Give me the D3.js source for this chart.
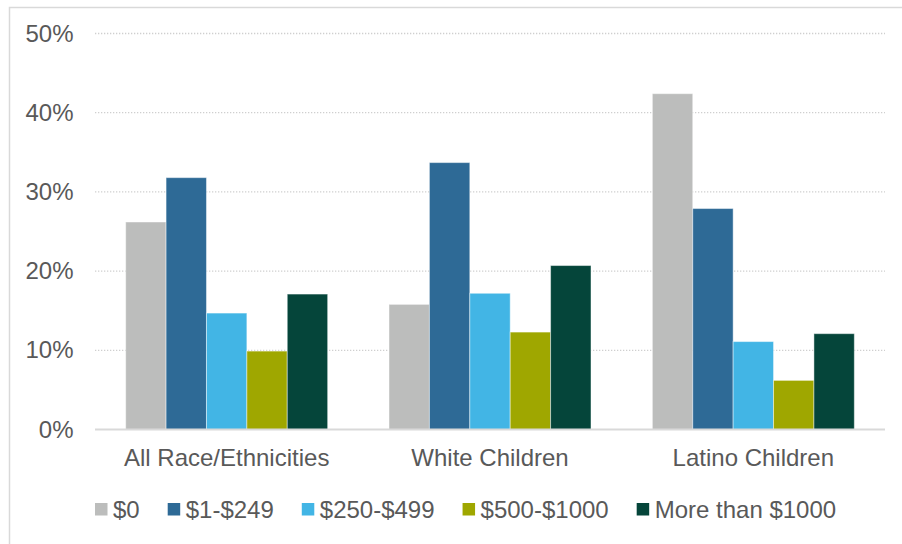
<!DOCTYPE html>
<html>
<head>
<meta charset="utf-8">
<script src="https://cdn.jsdelivr.net/npm/d3@7/dist/d3.min.js"></script>
<style>
  html, body { margin: 0; padding: 0; background: #ffffff; }
  svg { display: block; }
  text { font-family: "Liberation Sans", Arial, sans-serif; fill: #595959; }
</style>
</head>
<body>
<svg id="chart" width="902" height="544"></svg>
<script>
// Groups along the x axis
const categories = ["All Race/Ethnicities", "White Children", "Latino Children"];

// Spending brackets (one bar per bracket within each group)
const seriesNames = ["$0", "$1-$249", "$250-$499", "$500-$1000", "More than $1000"];
const seriesColors = ["#bcbdbc", "#2e6a96", "#42b5e5", "#9fa700", "#05453a"];

// Share of children in each bracket, in percent (rows follow categories)
const valuesAll = [26.2, 31.8, 14.7, 9.9, 17.1];
const valuesWhite = [15.8, 33.7, 17.2, 12.3, 20.7];
const valuesLatino = [42.4, 27.9, 11.1, 6.2, 12.1];
const values = [valuesAll, valuesWhite, valuesLatino];

// Y axis ticks
const yTicks = [0, 10, 20, 30, 40, 50];

const svg = d3.select("#chart");
const plot = { left: 95, right: 885, top: 33.5, bottom: 429.5 };
const fontSize = 24;

// Outer frame
svg.append("rect")
  .attr("x", 9.5).attr("y", 7.5)
  .attr("width", 900).attr("height", 545)
  .attr("fill", "none")
  .attr("stroke", "#d9d9d9")
  .attr("stroke-width", 1.5);

const x0 = d3.scaleBand()
  .domain(categories)
  .range([plot.left, plot.right])
  .paddingInner(0.233)
  .paddingOuter(0.1165);

const x1 = d3.scaleBand()
  .domain(seriesNames)
  .range([0, x0.bandwidth()]);

const y = d3.scaleLinear()
  .domain([0, 50])
  .range([plot.bottom, plot.top]);

const color = d3.scaleOrdinal().domain(seriesNames).range(seriesColors);

// Dotted gridlines
svg.append("g")
  .selectAll("line")
  .data(yTicks.filter(d => d > 0))
  .join("line")
  .attr("x1", plot.left).attr("x2", plot.right)
  .attr("y1", d => y(d)).attr("y2", d => y(d))
  .attr("stroke", "#cfcfcf")
  .attr("stroke-width", 1.3)
  .attr("stroke-dasharray", "1.3,1.7");

// Y axis labels
const yAxis = d3.axisLeft(y)
  .tickValues(yTicks)
  .tickFormat(d => d + "%")
  .tickSize(0)
  .tickPadding(0);

const yg = svg.append("g")
  .attr("transform", `translate(${plot.left - 21.5},0)`)
  .call(yAxis);
yg.select(".domain").remove();
yg.selectAll("text")
  .attr("font-size", fontSize)
  .attr("font-family", "Liberation Sans, Arial, sans-serif")
  .attr("fill", "#595959")
  .attr("dy", "0.32em");

// Bars
const groups = svg.append("g")
  .selectAll("g")
  .data(categories)
  .join("g")
  .attr("transform", d => `translate(${x0(d)},0)`);

groups.selectAll("rect")
  .data((d, i) => seriesNames.map((s, j) => ({ s, v: values[i][j] })))
  .join("rect")
  .attr("x", d => x1(d.s))
  .attr("width", x1.bandwidth())
  .attr("y", d => y(d.v))
  .attr("height", d => y(0) - y(d.v))
  .attr("fill", d => color(d.s))
  .attr("stroke", "rgba(255,255,255,0.45)")
  .attr("stroke-width", 1);

// X axis baseline and category labels
const xAxis = d3.axisBottom(x0).tickSize(0).tickPadding(0);
const xg = svg.append("g")
  .attr("transform", `translate(0,${plot.bottom})`)
  .call(xAxis);
xg.select(".domain")
  .attr("stroke", "#d9d9d9")
  .attr("stroke-width", 2)
  .attr("d", `M${plot.left},0H${plot.right}`);
xg.selectAll("text")
  .attr("font-size", fontSize)
  .attr("font-family", "Liberation Sans, Arial, sans-serif")
  .attr("fill", "#595959")
  .attr("y", 36.5)
  .attr("dy", 0);

// Legend
const legend = svg.append("g").attr("transform", "translate(95,0)");
let lx = 0;
seriesNames.forEach((name, i) => {
  const item = legend.append("g").attr("transform", `translate(${lx},0)`);
  item.append("rect")
    .attr("x", 0).attr("y", 503)
    .attr("width", 12.5).attr("height", 12.5)
    .attr("fill", seriesColors[i]);
  const t = item.append("text")
    .attr("x", 18)
    .attr("y", 517.5)
    .attr("font-size", fontSize)
    .text(name);
  lx += 18 + t.node().getComputedTextLength() + 28;
});
</script>
</body>
</html>
